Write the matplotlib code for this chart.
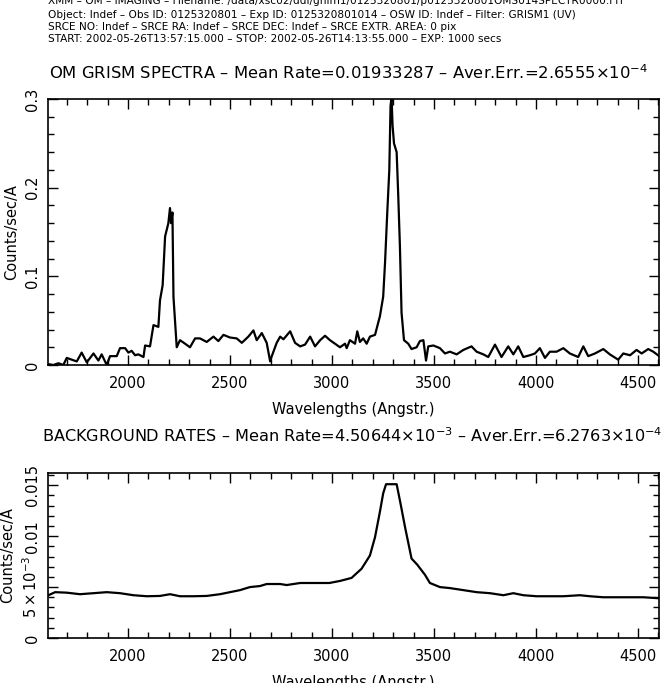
import numpy as np
import matplotlib
matplotlib.use('Agg')
import matplotlib.pyplot as plt
from matplotlib.ticker import MultipleLocator, FixedLocator, FixedFormatter

# source spectrum (Angstrom, counts/sec/A)
wave_src = [1610, 1634, 1659, 1683, 1700, 1724, 1749, 1773, 1798, 1831, 1855, 1871,
            1896, 1912, 1945, 1961, 1986, 2002, 2018, 2035, 2051, 2076, 2084, 2108,
            2125, 2149, 2157, 2170, 2182, 2198, 2206, 2211, 2218, 2223, 2239, 2255,
            2280, 2304, 2329, 2353, 2386, 2419, 2443, 2468, 2500, 2533, 2558, 2590,
            2615, 2631, 2656, 2680, 2697, 2705, 2729, 2746, 2762, 2795, 2819, 2844,
            2868, 2893, 2917, 2942, 2966, 2990, 3015, 3039, 3064, 3072, 3088, 3113,
            3124, 3137, 3153, 3170, 3186, 3211, 3235, 3251, 3260, 3271, 3281, 3287,
            3292, 3297, 3304, 3317, 3325, 3333, 3341, 3353, 3374, 3390, 3415, 3431,
            3448, 3461, 3472, 3497, 3529, 3554, 3578, 3611, 3644, 3684, 3709, 3742,
            3766, 3799, 3831, 3864, 3889, 3913, 3938, 3970, 3995, 4019, 4044, 4068,
            4101, 4134, 4166, 4207, 4232, 4256, 4289, 4330, 4362, 4403, 4428, 4461,
            4493, 4518, 4550, 4575, 4604]
rate_src = [0.001, 0.0, 0.002, 0.0, 0.008, 0.006, 0.004, 0.014, 0.003, 0.013, 0.005, 0.012,
            0.0, 0.010, 0.010, 0.019, 0.019, 0.014, 0.016, 0.011, 0.012, 0.009, 0.022, 0.021,
            0.045, 0.043, 0.073, 0.090, 0.145, 0.160, 0.177, 0.160, 0.172, 0.077, 0.020, 0.028,
            0.024, 0.020, 0.030, 0.030, 0.026, 0.032, 0.027, 0.034, 0.031, 0.030, 0.025, 0.032,
            0.039, 0.028, 0.036, 0.025, 0.004, 0.010, 0.025, 0.032, 0.029, 0.038, 0.025, 0.021,
            0.023, 0.032, 0.021, 0.028, 0.033, 0.028, 0.024, 0.020, 0.024, 0.019, 0.028, 0.024,
            0.038, 0.026, 0.030, 0.024, 0.032, 0.034, 0.055, 0.077, 0.115, 0.172, 0.220, 0.292,
            0.302, 0.270, 0.250, 0.240, 0.190, 0.134, 0.059, 0.028, 0.024, 0.018, 0.020, 0.027,
            0.028, 0.005, 0.021, 0.022, 0.019, 0.013, 0.015, 0.012, 0.017, 0.021, 0.015, 0.012,
            0.009, 0.023, 0.009, 0.021, 0.012, 0.021, 0.009, 0.011, 0.013, 0.019, 0.008, 0.015,
            0.015, 0.019, 0.013, 0.009, 0.021, 0.010, 0.013, 0.018, 0.012, 0.006, 0.013, 0.011,
            0.017, 0.013, 0.018, 0.015, 0.010]

# background
wave_bkg = [1610, 1643, 1700, 1765, 1831, 1896, 1961, 2027, 2092, 2157, 2206, 2255,
            2321, 2386, 2451, 2500, 2549, 2598, 2647, 2680, 2746, 2778, 2844, 2925,
            2987, 3039, 3096, 3145, 3186, 3211, 3235, 3251, 3265, 3317, 3336, 3358,
            3390, 3418, 3456, 3480, 3529, 3578, 3644, 3709, 3774, 3840, 3889, 3938,
            4003, 4068, 4134, 4215, 4264, 4330, 4395, 4461, 4526, 4604]
rate_bkg = [0.0042, 0.0045, 0.00445, 0.0043, 0.0044, 0.0045, 0.0044, 0.0042, 0.0041, 0.00413,
            0.0043, 0.0041, 0.0041, 0.00413, 0.0043, 0.0045, 0.0047, 0.0050, 0.0051, 0.0053,
            0.0053, 0.0052, 0.0054, 0.0054, 0.0054, 0.0056, 0.0059, 0.0068, 0.0081, 0.0099,
            0.0124, 0.0142, 0.0151, 0.0151, 0.0132, 0.0109, 0.0078, 0.0072, 0.0062, 0.0054,
            0.0050, 0.0049, 0.0047, 0.0045, 0.0044, 0.0042, 0.0044, 0.0042, 0.0041, 0.0041,
            0.0041, 0.0042, 0.0041, 0.0040, 0.0040, 0.0040, 0.0040, 0.0039]

xticks = [2000, 2500, 3000, 3500, 4000, 4500]
src_yticks = [0, 0.1, 0.2, 0.3]
src_ylabels = ['0', '0.1', '0.2', '0.3']
bkg_yticks = [0, 0.005, 0.01, 0.015]
bkg_ylabels = ['0', r'$5\times10^{-3}$', '0.01', '0.015']

header = ['XMM – OM – IMAGING – Filename: /data/xsc02/ddl/ghim1/0125320801/p0125320801OMS014SPECTR0000.FIT',
          'Object: Indef – Obs ID: 0125320801 – Exp ID: 0125320801014 – OSW ID: Indef – Filter: GRISM1 (UV)',
          'SRCE NO: Indef – SRCE RA: Indef – SRCE DEC: Indef – SRCE EXTR. AREA: 0 pix',
          'START: 2002-05-26T13:57:15.000 – STOP: 2002-05-26T14:13:55.000 – EXP: 1000 secs']

W, H = 661, 683
fig = plt.figure(figsize=(W / 100, H / 100), dpi=100)

def px(x0, y0, x1, y1):
    return [x0 / W, 1 - y1 / H, (x1 - x0) / W, (y1 - y0) / H]

ax1 = fig.add_axes(px(48, 99, 659, 365))
ax2 = fig.add_axes(px(48, 473, 659, 638))

ax1.plot(wave_src, rate_src, color='k', lw=1.6)
ax2.plot(wave_bkg, rate_bkg, color='k', lw=1.6)

ax1.set_ylim(0, 0.3)
ax2.set_ylim(0, 0.0162)
ax1.yaxis.set_major_locator(FixedLocator(src_yticks))
ax1.yaxis.set_major_formatter(FixedFormatter(src_ylabels))
ax1.yaxis.set_minor_locator(MultipleLocator(0.02))
ax2.yaxis.set_major_locator(FixedLocator(bkg_yticks))
ax2.yaxis.set_major_formatter(FixedFormatter(bkg_ylabels))
ax2.yaxis.set_minor_locator(MultipleLocator(0.001))

for ax in (ax1, ax2):
    ax.set_xlim(1608, 4603)
    ax.xaxis.set_major_locator(FixedLocator(xticks))
    ax.xaxis.set_major_formatter(FixedFormatter([str(t) for t in xticks]))
    ax.xaxis.set_minor_locator(MultipleLocator(100))
    ax.tick_params(which='both', direction='in', top=True, right=True,
                   labelsize=10.5, width=1, color='k')
    ax.tick_params(which='major', length=7)
    ax.tick_params(which='minor', length=4)
    ax.tick_params(axis='x', pad=8)
    ax.tick_params(axis='y', labelrotation=90, pad=6)
    for lab in ax.get_yticklabels():
        lab.set_va('center')
    for s in ax.spines.values():
        s.set_linewidth(1.2)
    ax.set_xlabel('Wavelengths (Angstr.)', fontsize=10.5, labelpad=8)
    ax.set_ylabel('Counts/sec/A', fontsize=10.5, labelpad=4)

# first header line sits partly above the image edge, as in the original
for line, yp in zip(header, [1, 15.5, 27, 38.5]):
    fig.text(48 / W, 1 - yp / H, line, fontsize=7.6, ha='left', va='center')

fig.text(349 / W, 1 - 73 / H,
         r'OM GRISM SPECTRA – Mean Rate=0.01933287 – Aver.Err.=2.6555$\times$10$^{-4}$',
         fontsize=11.8, ha='center', va='center')
fig.text(352 / W, 1 - 436 / H,
         r'BACKGROUND RATES – Mean Rate=4.50644$\times$10$^{-3}$ – Aver.Err.=6.2763$\times$10$^{-4}$',
         fontsize=11.6, ha='center', va='center')

fig.savefig('out.png', dpi=100)
